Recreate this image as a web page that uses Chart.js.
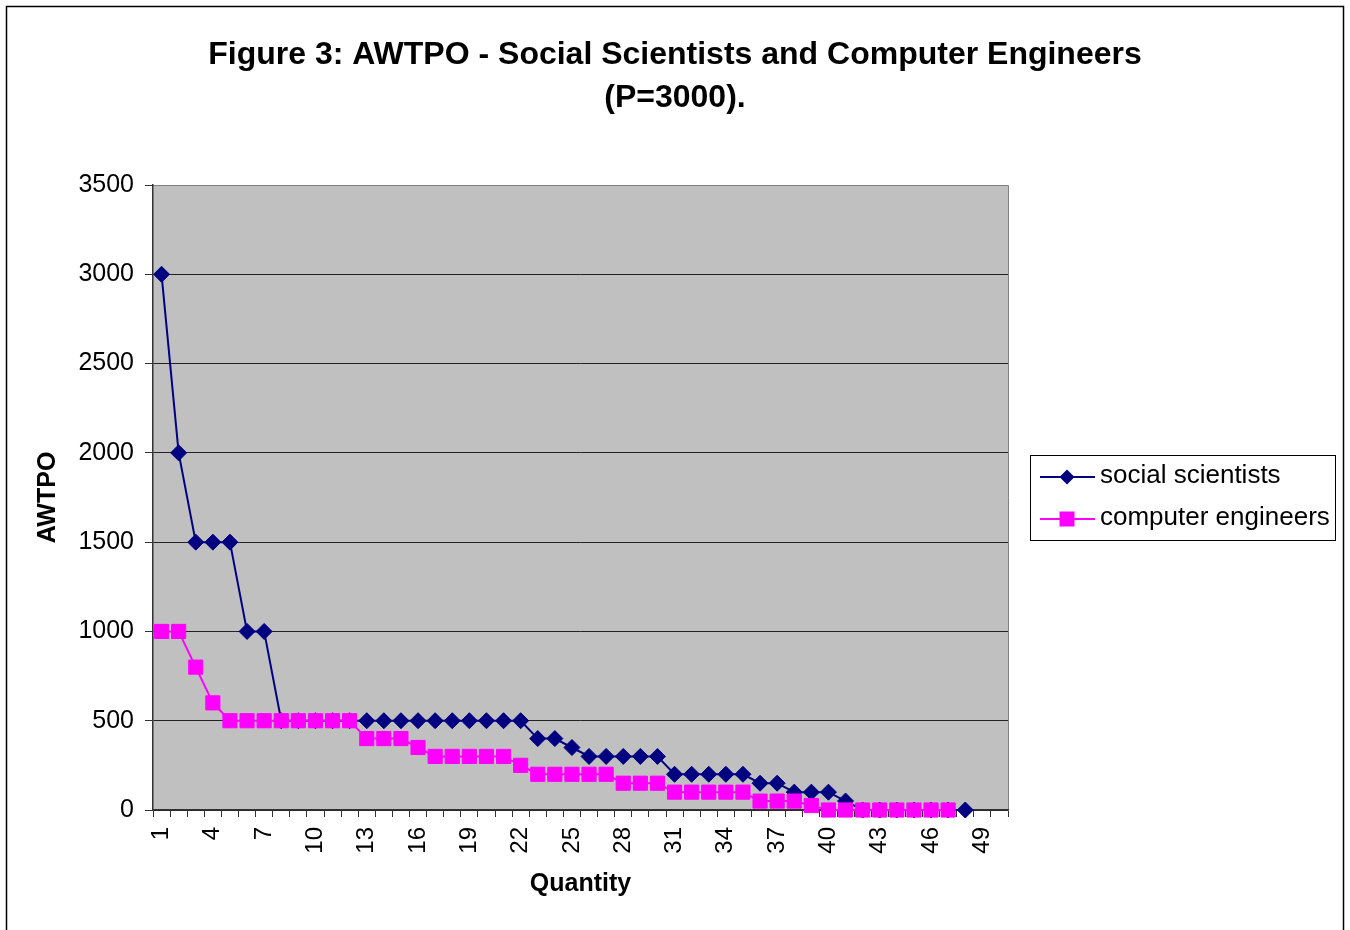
<!DOCTYPE html>
<html>
<head>
<meta charset="utf-8">
<script src="https://cdn.jsdelivr.net/npm/chart.js@4/dist/chart.umd.min.js"></script>
<style>
  html, body { margin: 0; padding: 0; background: #fff; }
  #wrap { width: 1350px; height: 930px; }
</style>
</head>
<body>
<div id="wrap"><canvas id="awtpoChart" width="1350" height="930"></canvas></div>
<script>
// data
const quantities = ['1','2','3','4','5','6','7','8','9','10','11','12','13','14','15','16','17','18','19','20',
  '21','22','23','24','25','26','27','28','29','30','31','32','33','34','35','36','37','38','39','40',
  '41','42','43','44','45','46','47','48','49','50'];
const socialScientists = [3000, 2000, 1500, 1500, 1500, 1000, 1000, 500, 500, 500,
  500, 500, 500, 500, 500, 500, 500, 500, 500, 500,
  500, 500, 400, 400, 350, 300, 300, 300, 300, 300,
  200, 200, 200, 200, 200, 150, 150, 100, 100, 100,
  50, 0, 0, 0, 0, 0, 0, 0, null, null];
const computerEngineers = [1000, 1000, 800, 600, 500, 500, 500, 500, 500, 500,
  500, 500, 400, 400, 400, 350, 300, 300, 300, 300,
  300, 250, 200, 200, 200, 200, 200, 150, 150, 150,
  100, 100, 100, 100, 100, 50, 50, 50, 25, 0,
  0, 0, 0, 0, 0, 0, 0, null, null, null];
const yMin = 0, yMax = 3500, yStep = 500;

const FONT = "'Liberation Sans', Arial, sans-serif";
Chart.defaults.font.family = FONT;
Chart.defaults.color = '#000';

// white page, grey plot area, outer frame
const backdrop = {
  id: 'backdrop',
  beforeDraw(chart) {
    const { ctx, chartArea: a } = chart;
    ctx.save();
    ctx.fillStyle = '#fff';
    ctx.fillRect(0, 0, chart.width, chart.height);
    ctx.fillStyle = '#c0c0c0';
    ctx.fillRect(a.left, a.top, a.right - a.left, a.bottom - a.top);
    ctx.strokeStyle = '#808080';
    ctx.lineWidth = 1;
    ctx.beginPath();
    ctx.moveTo(a.left, a.top + 0.5);
    ctx.lineTo(a.right + 0.5, a.top + 0.5);
    ctx.lineTo(a.right + 0.5, a.bottom);
    ctx.stroke();
    ctx.strokeStyle = '#000';
    ctx.lineWidth = 1.5;
    ctx.strokeRect(6.5, 6.5, 1337, 960);
    ctx.restore();
  }
};

// boxed legend with line + marker samples
const boxLegend = {
  id: 'boxLegend',
  afterDraw(chart) {
    const ctx = chart.ctx;
    ctx.save();
    ctx.strokeStyle = '#000';
    ctx.lineWidth = 1;
    ctx.strokeRect(1030.5, 455.5, 305, 85);
    chart.data.datasets.forEach((ds, i) => {
      const y = 477 + i * 42;
      ctx.strokeStyle = ds.borderColor;
      ctx.lineWidth = 2;
      ctx.beginPath();
      ctx.moveTo(1040, y);
      ctx.lineTo(1095, y);
      ctx.stroke();
      ctx.fillStyle = ds.pointBackgroundColor;
      ctx.beginPath();
      if (ds.pointStyle === 'rectRot') {
        ctx.moveTo(1067, y - 7.5);
        ctx.lineTo(1074.5, y);
        ctx.lineTo(1067, y + 7.5);
        ctx.lineTo(1059.5, y);
        ctx.closePath();
      } else {
        ctx.rect(1059.5, y - 7.5, 15, 15);
      }
      ctx.fill();
      ctx.fillStyle = '#000';
      ctx.font = '26px ' + FONT;
      ctx.textBaseline = 'middle';
      ctx.textAlign = 'left';
      ctx.fillText(ds.label, 1100, y - 1);
    });
    ctx.restore();
  }
};

const ctx = document.getElementById('awtpoChart').getContext('2d');
const chart = new Chart(ctx, {
  type: 'line',
  data: {
    labels: quantities,
    datasets: [{
      label: 'social scientists',
      data: socialScientists,
      borderColor: '#000080',
      backgroundColor: '#000080',
      pointBackgroundColor: '#000080',
      pointBorderColor: '#000080',
      borderWidth: 2,
      pointStyle: 'rectRot',
      pointRadius: 8,
      pointBorderWidth: 1,
      tension: 0,
      clip: false,
      order: 1
    }, {
      label: 'computer engineers',
      data: computerEngineers,
      borderColor: '#ff00ff',
      backgroundColor: '#ff00ff',
      pointBackgroundColor: '#ff00ff',
      pointBorderColor: '#ff00ff',
      borderWidth: 2,
      pointStyle: 'rect',
      pointRadius: 10,
      pointBorderWidth: 1,
      tension: 0,
      clip: false,
      order: 0
    }]
  },
  options: {
    responsive: false,
    animation: false,
    layout: { padding: { left: 20, right: 20, top: 0, bottom: 0 } },
    plugins: {
      legend: { display: false },
      tooltip: { enabled: false },
      title: {
        display: true,
        text: ['Figure 3: AWTPO - Social Scientists and Computer Engineers', '(P=3000).'],
        color: '#000',
        font: { size: 32, weight: 'bold', lineHeight: 1.344 },
        padding: { top: 34, bottom: 65 }
      }
    },
    scales: {
      x: {
        type: 'category',
        offset: true,
        afterFit(scale) { scale.height = 120; },
        grid: { offset: true, drawOnChartArea: false, tickLength: 7, color: '#333', tickColor: '#333' },
        border: { color: '#333', width: 1.5 },
        ticks: {
          autoSkip: false,
          maxRotation: 90,
          minRotation: 90,
          padding: 10,
          font: { size: 24 },
          color: '#000',
          callback(value, index) { return index % 3 === 0 ? this.getLabelForValue(value) : ''; }
        },
        title: {
          display: true,
          text: 'Quantity',
          font: { size: 25, weight: 'bold' },
          padding: { top: 0, bottom: 31 }
        }
      },
      y: {
        min: yMin,
        max: yMax,
        afterFit(scale) { scale.width = 133; },
        grid: {
          tickLength: 8,
          color: (c) => c.tick && c.tick.value === yMax ? '#808080' : '#222',
          tickColor: '#333',
          lineWidth: 1
        },
        border: { color: '#333', width: 1.5 },
        ticks: {
          stepSize: yStep,
          padding: 11,
          font: { size: 25 },
          color: '#000',
          callback: (v) => String(v)
        },
        title: {
          display: true,
          text: 'AWTPO',
          font: { size: 25, weight: 'bold' },
          padding: { top: 13, bottom: 0 }
        }
      },
      spacer: {
        position: 'right',
        display: true,
        afterFit(scale) { scale.width = 322; },
        grid: { display: false, drawTicks: false },
        border: { display: false },
        ticks: { display: false }
      }
    }
  },
  plugins: [backdrop, boxLegend]
});
</script>
</body>
</html>
